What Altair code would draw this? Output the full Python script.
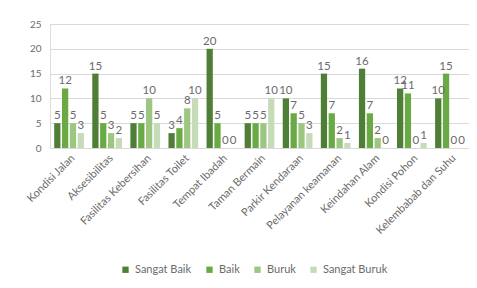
import altair as alt
import pandas as pd

categories = ["Kondisi Jalan", "Aksesibilitas", "Fasilitas Kebersihan", "Fasilitas Toilet",
              "Tempat Ibadah", "Taman Bermain", "Parkir Kendaraan", "Pelayanan keamanan",
              "Keindahan Alam", "Kondisi Pohon", "Kelembabab dan Suhu"]
series = ["Sangat Baik", "Baik", "Buruk", "Sangat Buruk"]
sangat_baik = [5, 15, 5, 3, 20, 5, 10, 15, 16, 12, 10]
baik = [12, 5, 5, 4, 5, 5, 7, 7, 7, 11, 15]
buruk = [5, 3, 10, 8, 0, 5, 5, 2, 2, 0, 0]
sangat_buruk = [3, 2, 5, 10, 0, 10, 3, 1, 0, 1, 0]
colors = ["#4f7f36", "#6aaa45", "#9dc681", "#c6dbb8"]

rows = []
for s, vals in zip(series, [sangat_baik, baik, buruk, sangat_buruk]):
    for c, v in zip(categories, vals):
        rows.append({"cat": c, "series": s, "value": v})
df = pd.DataFrame(rows)

W, H = 419, 124
xscale = alt.Scale(paddingInner=0.22, paddingOuter=0.11)
yscale = alt.Scale(domain=[0, 25])
xenc = alt.X("cat:N", sort=categories, title=None, scale=xscale)
xoff = alt.XOffset("series:N", sort=series, scale=alt.Scale(paddingInner=0.2))
yenc = alt.Y("value:Q", title=None, scale=yscale)

base = alt.Chart(df)
bars = base.mark_bar().encode(
    x=xenc, xOffset=xoff, y=yenc,
    color=alt.Color("series:N", sort=series, scale=alt.Scale(domain=series, range=colors),
                    legend=alt.Legend(title=None, orient="none", direction="horizontal",
                                      legendX=70, legendY=240, symbolType="square",
                                      symbolSize=40, labelFontSize=11, labelColor="#6b6b6b",
                                      columnPadding=12, symbolStrokeWidth=0)),
)
labels = base.mark_text(dy=-7, fontSize=11.5, color="#6b6b6b").encode(
    x=xenc, xOffset=xoff, y=yenc, text="value:Q")

chart = alt.layer(bars, labels).properties(
    width=W, height=H,
    autosize=alt.AutoSizeParams(type="none"),
    padding={"left": 42, "top": 16, "right": 0, "bottom": 132},
).configure_view(stroke=None).configure(font="Lato").configure_axis(
    labelColor="#6b6b6b", ticks=False, domain=False, labelOverlap=False,
    gridColor="#d9d9d9",
).configure_axisX(
    labelAngle=-45, labelAlign="right", labelBaseline="top", labelFontSize=11,
    labelPadding=4, grid=False,
).configure_axisY(
    tickCount=6, labelFontSize=10, labelPadding=9,
)

chart.save("out.html", embed_options={"renderer": "svg", "actions": False})
